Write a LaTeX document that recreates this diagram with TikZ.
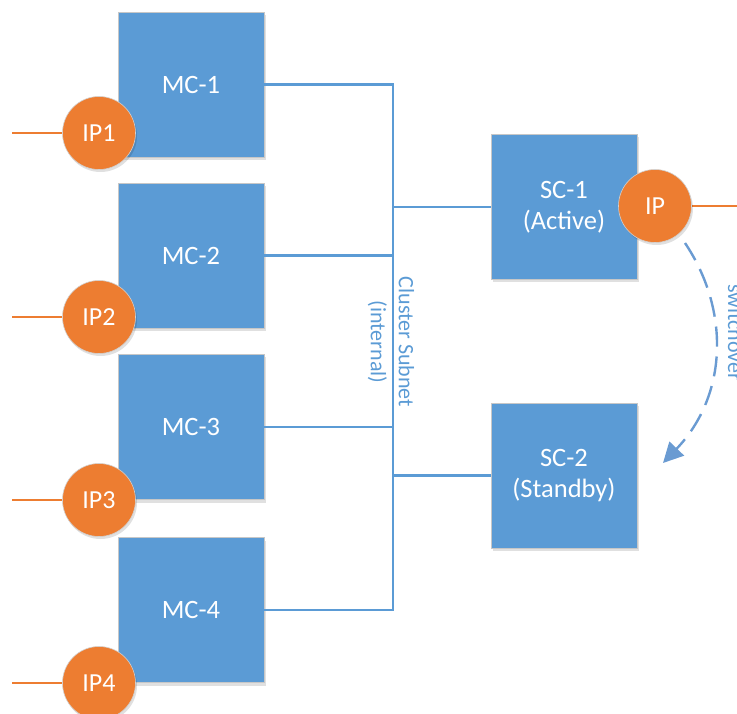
\documentclass[tikz,border=0pt]{standalone}
\usepackage{fontspec}
\setmainfont{Carlito}
\usetikzlibrary{arrows.meta,shadows}
\definecolor{boxblue}{HTML}{5B9BD5}
\definecolor{ipor}{HTML}{ED7D31}
\definecolor{arrblue}{HTML}{6A9BD2}
\tikzset{
  mcbox/.style={rectangle, fill=boxblue, draw=black!22, line width=0.6pt,
    minimum width=146pt, minimum height=145pt, inner sep=0pt, text=white,
    align=center, font=\fontsize{26.5}{31}\selectfont,
    drop shadow={shadow xshift=2pt, shadow yshift=-3pt, opacity=0.12, fill=black}},
  ipnode/.style={circle, fill=ipor, draw=black!18, line width=0.6pt,
    minimum size=73pt, inner sep=0pt, text=white, font=\fontsize{26}{31}\selectfont,
    drop shadow={shadow xshift=1.5pt, shadow yshift=-2.5pt, opacity=0.12, fill=black}},
  busline/.style={draw=boxblue, line width=2.2pt},
  ipline/.style={draw=ipor, line width=2.5pt},
  lbl/.style={text=boxblue, font=\fontsize{22}{28}\selectfont, inner sep=0pt},
  swarrow/.style={draw=arrblue, line width=2.4pt, dash pattern=on 20pt off 10pt,
    -{Triangle[length=20pt,width=20pt]}}
}
\begin{document}
\begin{tikzpicture}[x=1pt,y=-1pt]
\useasboundingbox (0,0) rectangle (737,714);
% coordinates
\coordinate (bx) at (393,0);
\coordinate (e1) at (12,133);
\coordinate (e2) at (12,317);
\coordinate (e3) at (12,500);
\coordinate (e4) at (12,683);
\coordinate (es) at (740,206);
\coordinate (a1) at (685,243);
\coordinate (a2) at (663,463);
% boxes
\node[mcbox] (mc1) at (191,84.5) {MC-1};
\node[mcbox] (mc2) at (191,255.5) {MC-2};
\node[mcbox] (mc3) at (191,427) {MC-3};
\node[mcbox] (mc4) at (191,610) {MC-4};
\node[mcbox] (sc1) at (564,207) {SC-1\\(Active)};
\node[mcbox] (sc2) at (564,475.5) {SC-2\\(Standby)};
% bus lines
\draw[busline] (mc1.east) -- (mc1.east -| bx) -- (mc4.east -| bx) -- (mc4.east);
\draw[busline] (mc2.east) -- (mc2.east -| bx);
\draw[busline] (mc3.east) -- (mc3.east -| bx);
\draw[busline] (sc1.west -| bx) -- (sc1.west);
\draw[busline] (sc2.west -| bx) -- (sc2.west);
% IP circles
\draw[ipline] (e1) -- (99,133);
\draw[ipline] (e2) -- (99,317);
\draw[ipline] (e3) -- (99,500);
\draw[ipline] (e4) -- (99,683);
\draw[ipline] (655,206) -- (es);
\node[ipnode] (ip1) at (99,133) {IP1};
\node[ipnode] (ip2) at (99,317) {IP2};
\node[ipnode] (ip3) at (99,500) {IP3};
\node[ipnode] (ip4) at (99,683) {IP4};
\node[ipnode] (ip) at (655,206) {IP};
% labels
\node[lbl, rotate=-90, align=center] (cl) at (391,342) {Cluster Subnet\\(internal)};
\node[lbl, rotate=-90, anchor=base west] (sw) at (728,284) {switchover};
% switchover arrow
\draw[swarrow] (a1) .. controls (730,310) and (728,395) .. (a2);
\end{tikzpicture}
\end{document}
